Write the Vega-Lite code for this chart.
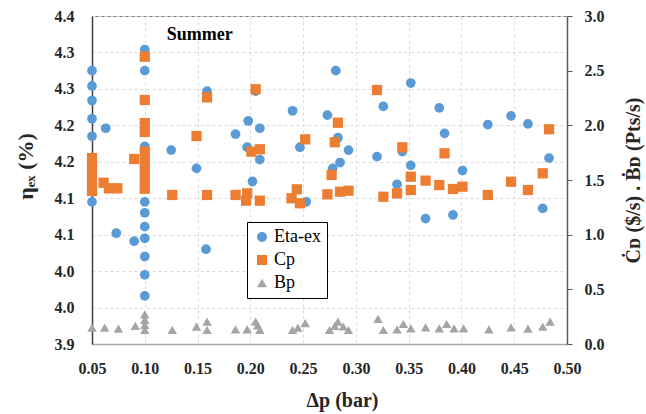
{
  "$schema": "https://vega.github.io/schema/vega-lite/v6.json",
  "autosize": {"type": "none"},
  "width": 475,
  "height": 328,
  "padding": {"left": 92, "top": 16, "right": 79, "bottom": 70},
  "background": "white",
  "config": {
    "view": {"stroke": "#7f7f7f", "strokeWidth": 1},
    "font": "Times New Roman",
    "style": {"guide-label": {"font": "Times New Roman", "fontWeight": "bold"}, "guide-title": {"font": "Times New Roman", "fontWeight": "bold"}},
    "axis": {"labelFont": "Times New Roman", "titleFont": "Times New Roman", "labelFontWeight": "bold", "titleFontWeight": "bold", "labelColor": "#262626", "titleColor": "#262626", "labelOverlap": false, "labelFlush": false},
    "legend": {
      "orient": "none", "legendX": 155, "legendY": 206, "strokeColor": "#000000", "padding": 6, "rowPadding": 5,
      "labelFont": "Times New Roman", "labelFontWeight": "normal", "labelFontSize": 18, "labelColor": "#000000", "symbolSize": 100, "labelOffset": 3, "fillColor": "white"
    }
  },
  "encoding": {
    "x": {"field": "dp", "type": "quantitative",
      "scale": {"domain": [0.05, 0.5], "nice": false, "zero": false},
      "axis": {"title": "Δp (bar)", "titleFont": "Times New Roman", "labelFont": "Times New Roman", "titleFontSize": 20, "titleX": 250, "titleY": 56, "titleBaseline": "middle",
        "values": [0.05, 0.1, 0.15, 0.2, 0.25, 0.3, 0.35, 0.4, 0.45, 0.5], "format": ".2f",
        "labelFontSize": 16, "labelPadding": 16, "ticks": false, "domainColor": "#a6a6a6", "domainWidth": 1.5,
        "grid": true, "gridDash": [3, 3], "gridColor": "#d9d9d9"}}
  },
  "layer": [
    {
      "encoding": {
        "y": {"field": "v", "type": "quantitative",
          "scale": {"domain": [3.9, 4.35], "nice": false, "zero": false},
          "axis": {"title": "ηₑₓ (%)", "titleFont": "Times New Roman", "labelFont": "Times New Roman", "titleFontSize": 22, "titleX": -67, "titleY": 150, "titleAngle": 270, "titleAlign": "center", "titleBaseline": "middle",
            "values": [3.9, 3.95, 4.0, 4.05, 4.1, 4.15, 4.2, 4.25, 4.3, 4.35], "labelExpr": "format(datum.value + 0.001, '.1f')",
            "labelFontSize": 16, "labelPadding": 18, "ticks": false, "domainColor": "#404040", "domainWidth": 1.5,
            "grid": true, "gridDash": [3, 3], "gridColor": "#d9d9d9"}}
      },
      "layer": [
        {
          "data": {"values": [
            {"series": "Eta-ex", "dp": 0.05, "v": 4.275}, {"series": "Eta-ex", "dp": 0.05, "v": 4.254}, {"series": "Eta-ex", "dp": 0.05, "v": 4.234},
            {"series": "Eta-ex", "dp": 0.05, "v": 4.209}, {"series": "Eta-ex", "dp": 0.05, "v": 4.185}, {"series": "Eta-ex", "dp": 0.05, "v": 4.095},
            {"series": "Eta-ex", "dp": 0.063, "v": 4.196}, {"series": "Eta-ex", "dp": 0.073, "v": 4.052}, {"series": "Eta-ex", "dp": 0.09, "v": 4.041},
            {"series": "Eta-ex", "dp": 0.10, "v": 4.304}, {"series": "Eta-ex", "dp": 0.10, "v": 4.275}, {"series": "Eta-ex", "dp": 0.10, "v": 4.171},
            {"series": "Eta-ex", "dp": 0.10, "v": 4.095}, {"series": "Eta-ex", "dp": 0.10, "v": 4.080}, {"series": "Eta-ex", "dp": 0.10, "v": 4.061},
            {"series": "Eta-ex", "dp": 0.10, "v": 4.045}, {"series": "Eta-ex", "dp": 0.10, "v": 4.020}, {"series": "Eta-ex", "dp": 0.10, "v": 3.995},
            {"series": "Eta-ex", "dp": 0.10, "v": 3.966}, {"series": "Eta-ex", "dp": 0.125, "v": 4.166}, {"series": "Eta-ex", "dp": 0.149, "v": 4.141},
            {"series": "Eta-ex", "dp": 0.159, "v": 4.247}, {"series": "Eta-ex", "dp": 0.158, "v": 4.030}, {"series": "Eta-ex", "dp": 0.186, "v": 4.188},
            {"series": "Eta-ex", "dp": 0.198, "v": 4.206}, {"series": "Eta-ex", "dp": 0.197, "v": 4.170}, {"series": "Eta-ex", "dp": 0.202, "v": 4.123},
            {"series": "Eta-ex", "dp": 0.205, "v": 4.247}, {"series": "Eta-ex", "dp": 0.209, "v": 4.153}, {"series": "Eta-ex", "dp": 0.209, "v": 4.196},
            {"series": "Eta-ex", "dp": 0.240, "v": 4.220}, {"series": "Eta-ex", "dp": 0.247, "v": 4.170}, {"series": "Eta-ex", "dp": 0.253, "v": 4.095},
            {"series": "Eta-ex", "dp": 0.273, "v": 4.214}, {"series": "Eta-ex", "dp": 0.278, "v": 4.141}, {"series": "Eta-ex", "dp": 0.281, "v": 4.275},
            {"series": "Eta-ex", "dp": 0.283, "v": 4.183}, {"series": "Eta-ex", "dp": 0.285, "v": 4.149}, {"series": "Eta-ex", "dp": 0.293, "v": 4.166},
            {"series": "Eta-ex", "dp": 0.320, "v": 4.157}, {"series": "Eta-ex", "dp": 0.326, "v": 4.226}, {"series": "Eta-ex", "dp": 0.339, "v": 4.119},
            {"series": "Eta-ex", "dp": 0.344, "v": 4.164}, {"series": "Eta-ex", "dp": 0.352, "v": 4.258}, {"series": "Eta-ex", "dp": 0.352, "v": 4.145},
            {"series": "Eta-ex", "dp": 0.366, "v": 4.072}, {"series": "Eta-ex", "dp": 0.379, "v": 4.224}, {"series": "Eta-ex", "dp": 0.384, "v": 4.189},
            {"series": "Eta-ex", "dp": 0.392, "v": 4.077}, {"series": "Eta-ex", "dp": 0.401, "v": 4.138}, {"series": "Eta-ex", "dp": 0.425, "v": 4.201},
            {"series": "Eta-ex", "dp": 0.447, "v": 4.213}, {"series": "Eta-ex", "dp": 0.463, "v": 4.202}, {"series": "Eta-ex", "dp": 0.477, "v": 4.086},
            {"series": "Eta-ex", "dp": 0.483, "v": 4.155}
          ]},
          "mark": {"type": "point", "filled": true, "opacity": 1, "size": 95},
          "encoding": {
            "color": {"field": "series", "type": "nominal", "scale": {"domain": ["Eta-ex", "Cp", "Bp"], "range": ["#5b9bd5", "#ed7d31", "#a5a5a5"]}, "legend": {"title": null}},
            "shape": {"field": "series", "type": "nominal", "scale": {"domain": ["Eta-ex", "Cp", "Bp"], "range": ["circle", "square", "triangle-up"]}, "legend": {"title": null}}
          }
        },
        {
          "data": {"values": [{"t": "Summer", "dp": 0.152, "v": 4.324}]},
          "mark": {"type": "text", "font": "Times New Roman", "fontWeight": "bold", "fontSize": 18, "color": "#000000", "align": "center", "baseline": "middle"},
          "encoding": {"text": {"field": "t"}}
        }
      ]
    },
    {
      "encoding": {
        "y": {"field": "v", "type": "quantitative",
          "scale": {"domain": [0, 3], "nice": false, "zero": true},
          "axis": {"orient": "right", "title": "Ċᴅ ($/s) . Ḃᴅ (Pts/s)", "titleFont": "Times New Roman", "labelFont": "Times New Roman", "titleFontSize": 20, "titleX": 66, "titleY": 164, "titleAngle": 270, "titleAlign": "center", "titleBaseline": "middle",
            "values": [0, 0.5, 1, 1.5, 2, 2.5, 3], "format": ".1f",
            "labelFontSize": 16, "labelPadding": 12, "ticks": true, "tickSize": 5, "tickColor": "#595959", "domainColor": "#595959", "domainWidth": 1.5,
            "grid": false}},
        "color": {"field": "series", "type": "nominal", "scale": {"domain": ["Eta-ex", "Cp", "Bp"], "range": ["#5b9bd5", "#ed7d31", "#a5a5a5"]}, "legend": {"title": null}},
        "shape": {"field": "series", "type": "nominal", "scale": {"domain": ["Eta-ex", "Cp", "Bp"], "range": ["circle", "square", "triangle-up"]}, "legend": {"title": null}}
      },
      "layer": [
        {
          "data": {"values": [
            {"series": "Cp", "dp": 0.05, "v": 1.70}, {"series": "Cp", "dp": 0.05, "v": 1.63}, {"series": "Cp", "dp": 0.05, "v": 1.54},
            {"series": "Cp", "dp": 0.05, "v": 1.47}, {"series": "Cp", "dp": 0.05, "v": 1.40}, {"series": "Cp", "dp": 0.061, "v": 1.475},
            {"series": "Cp", "dp": 0.066, "v": 1.424}, {"series": "Cp", "dp": 0.074, "v": 1.424}, {"series": "Cp", "dp": 0.09, "v": 1.692},
            {"series": "Cp", "dp": 0.10, "v": 2.628}, {"series": "Cp", "dp": 0.10, "v": 2.232}, {"series": "Cp", "dp": 0.10, "v": 2.02},
            {"series": "Cp", "dp": 0.10, "v": 1.94}, {"series": "Cp", "dp": 0.10, "v": 1.76}, {"series": "Cp", "dp": 0.10, "v": 1.68},
            {"series": "Cp", "dp": 0.10, "v": 1.59}, {"series": "Cp", "dp": 0.10, "v": 1.50}, {"series": "Cp", "dp": 0.10, "v": 1.42},
            {"series": "Cp", "dp": 0.126, "v": 1.363}, {"series": "Cp", "dp": 0.149, "v": 1.902}, {"series": "Cp", "dp": 0.159, "v": 2.256},
            {"series": "Cp", "dp": 0.159, "v": 1.363}, {"series": "Cp", "dp": 0.186, "v": 1.363}, {"series": "Cp", "dp": 0.197, "v": 1.378},
            {"series": "Cp", "dp": 0.196, "v": 1.311}, {"series": "Cp", "dp": 0.201, "v": 1.759}, {"series": "Cp", "dp": 0.209, "v": 1.781},
            {"series": "Cp", "dp": 0.205, "v": 2.330}, {"series": "Cp", "dp": 0.209, "v": 1.311}, {"series": "Cp", "dp": 0.239, "v": 1.333},
            {"series": "Cp", "dp": 0.244, "v": 1.415}, {"series": "Cp", "dp": 0.247, "v": 1.287}, {"series": "Cp", "dp": 0.252, "v": 1.872},
            {"series": "Cp", "dp": 0.273, "v": 1.369}, {"series": "Cp", "dp": 0.277, "v": 1.546}, {"series": "Cp", "dp": 0.280, "v": 1.845},
            {"series": "Cp", "dp": 0.283, "v": 2.024}, {"series": "Cp", "dp": 0.285, "v": 1.393}, {"series": "Cp", "dp": 0.293, "v": 1.402},
            {"series": "Cp", "dp": 0.320, "v": 2.323}, {"series": "Cp", "dp": 0.326, "v": 1.347}, {"series": "Cp", "dp": 0.339, "v": 1.378},
            {"series": "Cp", "dp": 0.344, "v": 1.799}, {"series": "Cp", "dp": 0.352, "v": 1.530}, {"series": "Cp", "dp": 0.352, "v": 1.408},
            {"series": "Cp", "dp": 0.366, "v": 1.494}, {"series": "Cp", "dp": 0.379, "v": 1.454}, {"series": "Cp", "dp": 0.384, "v": 1.744},
            {"series": "Cp", "dp": 0.392, "v": 1.418}, {"series": "Cp", "dp": 0.401, "v": 1.439}, {"series": "Cp", "dp": 0.425, "v": 1.363},
            {"series": "Cp", "dp": 0.447, "v": 1.484}, {"series": "Cp", "dp": 0.463, "v": 1.408}, {"series": "Cp", "dp": 0.477, "v": 1.561},
            {"series": "Cp", "dp": 0.483, "v": 1.964}
          ]},
          "mark": {"type": "point", "filled": true, "opacity": 1, "size": 105}
        },
        {
          "data": {"values": [
            {"series": "Bp", "dp": 0.05, "v": 0.15}, {"series": "Bp", "dp": 0.062, "v": 0.15}, {"series": "Bp", "dp": 0.075, "v": 0.14},
            {"series": "Bp", "dp": 0.091, "v": 0.165}, {"series": "Bp", "dp": 0.10, "v": 0.27}, {"series": "Bp", "dp": 0.10, "v": 0.22},
            {"series": "Bp", "dp": 0.10, "v": 0.175}, {"series": "Bp", "dp": 0.10, "v": 0.13}, {"series": "Bp", "dp": 0.126, "v": 0.13},
            {"series": "Bp", "dp": 0.149, "v": 0.158}, {"series": "Bp", "dp": 0.159, "v": 0.204}, {"series": "Bp", "dp": 0.159, "v": 0.128},
            {"series": "Bp", "dp": 0.186, "v": 0.134}, {"series": "Bp", "dp": 0.197, "v": 0.134}, {"series": "Bp", "dp": 0.205, "v": 0.204},
            {"series": "Bp", "dp": 0.207, "v": 0.17}, {"series": "Bp", "dp": 0.209, "v": 0.128}, {"series": "Bp", "dp": 0.240, "v": 0.128},
            {"series": "Bp", "dp": 0.245, "v": 0.15}, {"series": "Bp", "dp": 0.252, "v": 0.19}, {"series": "Bp", "dp": 0.275, "v": 0.128},
            {"series": "Bp", "dp": 0.280, "v": 0.165}, {"series": "Bp", "dp": 0.283, "v": 0.204}, {"series": "Bp", "dp": 0.288, "v": 0.16},
            {"series": "Bp", "dp": 0.293, "v": 0.128}, {"series": "Bp", "dp": 0.321, "v": 0.23}, {"series": "Bp", "dp": 0.326, "v": 0.128},
            {"series": "Bp", "dp": 0.339, "v": 0.134}, {"series": "Bp", "dp": 0.345, "v": 0.183}, {"series": "Bp", "dp": 0.352, "v": 0.143},
            {"series": "Bp", "dp": 0.366, "v": 0.153}, {"series": "Bp", "dp": 0.379, "v": 0.143}, {"series": "Bp", "dp": 0.386, "v": 0.183},
            {"series": "Bp", "dp": 0.393, "v": 0.143}, {"series": "Bp", "dp": 0.402, "v": 0.143}, {"series": "Bp", "dp": 0.426, "v": 0.134},
            {"series": "Bp", "dp": 0.447, "v": 0.153}, {"series": "Bp", "dp": 0.463, "v": 0.14}, {"series": "Bp", "dp": 0.477, "v": 0.158},
            {"series": "Bp", "dp": 0.484, "v": 0.204}
          ]},
          "mark": {"type": "point", "filled": true, "opacity": 1, "size": 90}
        }
      ]
    }
  ],
  "resolve": {"scale": {"y": "independent"}}
}
